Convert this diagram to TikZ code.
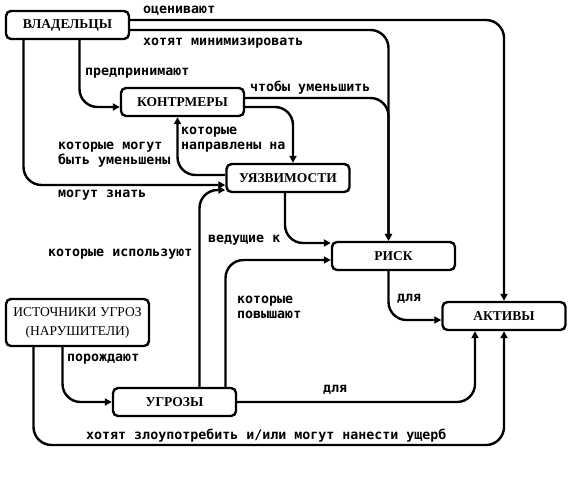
\documentclass[tikz,border=0pt]{standalone}
\usepackage{fontspec}
\setmainfont{Liberation Serif}
\newfontfamily\notefont{DejaVu Sans Mono}
\usetikzlibrary{arrows.meta,positioning}

\begin{document}
\begin{tikzpicture}[
  x=1pt, y=-1pt,
  entity/.style={
    rectangle, draw, line width=2.4pt, rounded corners=5pt,
    minimum width=123pt, minimum height=28pt, align=center,
    inner sep=0pt, font=\fontsize{13.5}{15}\selectfont\bfseries
  },
  note/.style={
    inner sep=0pt, align=left, anchor=west,
    font=\fontsize{13.3}{15}\selectfont\notefont\bfseries
  },
  arr/.style={-{Triangle[length=7pt,width=7pt]}, line width=2.4pt, rounded corners=18pt},
]
  \useasboundingbox (0,0) rectangle (577,498);

  % Entities
  \node[entity] (vlad) at (67.5,25) {ВЛАДЕЛЬЦЫ};
  \node[entity] (kontr) at (182.5,102) {КОНТРМЕРЫ};
  \node[entity] (uyazv) at (288,178) {УЯЗВИМОСТИ};
  \node[entity] (risk) at (393.5,256) {РИСК};
  \node[entity] (aktiv) at (504,316) {АКТИВЫ};
  \node[entity, minimum width=143pt, minimum height=47pt,
        font=\fontsize{13.5}{19}\selectfont] (istoch) at (77.5,322.5) {ИСТОЧНИКИ УГРОЗ\\(НАРУШИТЕЛИ)};
  \node[entity] (ugroz) at (174.5,402) {УГРОЗЫ};
  \coordinate (loop) at (504,445);

  % Connectors
  \draw[arr] ([yshift=5pt]vlad.east) -| (aktiv.north);
  \draw[arr] ([yshift=-5pt]vlad.east) -| ([xshift=-5pt]risk.north);
  \draw[arr] ([yshift=4pt]kontr.east) -| ([xshift=-5pt]risk.north);
  \draw[arr] ([xshift=12pt]vlad.south) |- ([yshift=-5pt]kontr.west);
  \draw[arr] ([yshift=-5pt]kontr.east) -| ([xshift=5pt]uyazv.north);
  \draw[arr] ([yshift=3pt]uyazv.west) -| ([xshift=-5pt]kontr.south);
  \draw[arr] ([xshift=-44pt]vlad.south) |- ([yshift=-7pt]uyazv.west);
  \draw[arr] ([xshift=25pt]ugroz.north) |- ([yshift=-12pt]uyazv.west);
  \draw[arr] ([xshift=51pt]ugroz.north) |- ([yshift=-4pt]risk.west);
  \draw[arr] ([xshift=-3pt]uyazv.south) |- ([yshift=13pt]risk.west);
  \draw[arr] ([xshift=-5pt]risk.south) |- ([yshift=-4pt]aktiv.west);
  \draw[arr] ([xshift=-15pt]istoch.south) |- (ugroz.west);
  \draw[arr] (ugroz.east) -| ([xshift=-29pt]aktiv.south);
  \draw[arr] ([xshift=-44pt]istoch.south) |- (loop) -- (aktiv.south);

  % Labels
  \node[note] (l-ocen) at (143,11) {оценивают};
  \node[note] (l-min) at (143,43) {хотят минимизировать};
  \node[note] (l-pred) at (85,73) {предпринимают};
  \node[note] (l-umen) at (250,88) {чтобы уменьшить};
  \node[note] (l-napr) at (181,140) {которые\\направлены на};
  \node[note] (l-mogut) at (58,155) {которые могут\\быть уменьшены};
  \node[note] (l-znat) at (58,195) {могут знать};
  \node[note] (l-ved) at (208,240) {ведущие к};
  \node[note] (l-isp) at (48,254) {которые используют};
  \node[note] (l-pov) at (237,307) {которые\\повышают};
  \node[note] (l-dlya1) at (397,299) {для};
  \node[note] (l-por) at (67,359) {порождают};
  \node[note] (l-dlya2) at (323,390) {для};
  \node[note] (l-zlo) at (86,436) {хотят злоупотребить и/или могут нанести ущерб};
\end{tikzpicture}
\end{document}
